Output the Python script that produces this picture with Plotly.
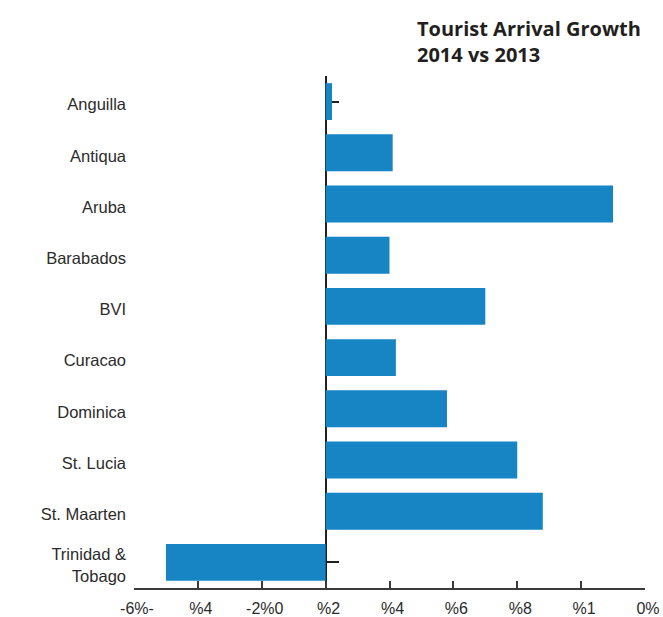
import plotly.graph_objects as go

# Tourist arrival growth, 2014 vs 2013 (percent)
islands = ["Anguilla", "Antiqua", "Aruba", "Barabados", "BVI", "Curacao",
           "Dominica", "St. Lucia", "St. Maarten", "Trinidad &<br>Tobago"]
growth = [0.2, 2.1, 9.0, 2.0, 5.0, 2.2, 3.8, 6.0, 6.8, -5.0]

x_tickvals = [-6, -4, -2, 0, 2, 4, 6, 8, 10]
x_ticktext = ["-6%-", "%4", "-2%0", "%2", "%4", "%6", "%8", "%1", "0%"]

x_range = [-6, 10]
bar_color = "#1784c4"
ink = "#231f20"
label_color = "#2b2b2b"

W, H = 663, 617
M = dict(l=134, r=18, t=76, b=29)
plot_w = W - M["l"] - M["r"]
plot_h = H - M["t"] - M["b"]
n = len(islands)

fig = go.Figure()
# invisible carrier so the label axis gets drawn
fig.add_trace(go.Scatter(
    x=growth, y=list(range(n)), mode="none",
    hoverinfo="skip", showlegend=False,
))
fig.add_trace(go.Bar(
    x=growth,
    y=islands,
    orientation="h",
    marker=dict(color=bar_color, line=dict(width=0)),
    width=0.72,
    yaxis="y2",
    hoverinfo="x+y",
))

fig.update_layout(
    width=W,
    height=H,
    margin=M,
    paper_bgcolor="white",
    plot_bgcolor="white",
    showlegend=False,
    font=dict(family="Liberation Sans, Arial, sans-serif", size=16, color=ink),
    xaxis=dict(
        range=x_range,
        tickvals=x_tickvals,
        ticktext=x_ticktext,
        ticks="inside",
        ticklen=7,
        tickwidth=1.5,
        tickcolor="#3a3a3a",
        showline=True,
        linecolor="#3a3a3a",
        linewidth=1.5,
        showgrid=False,
        zeroline=False,
        automargin=False,
        ticklabelstandoff=5,
        ticklabelshift=3,
        tickfont=dict(size=16, color=label_color),
    ),
    # category labels along the left edge of the plot area
    yaxis=dict(
        type="linear",
        range=[n - 0.5, -0.5],
        tickvals=list(range(n)),
        ticktext=islands,
        showline=False,
        ticks="",
        showgrid=False,
        zeroline=False,
        automargin=False,
        ticklabelstandoff=7,
        ticklabelshift=-3,
        tickfont=dict(size=16.5, color=label_color),
    ),
    # baseline axis drawn at 0%
    yaxis2=dict(
        type="category",
        categoryorder="array",
        categoryarray=islands,
        overlaying="y",
        anchor="free",
        position=(0 - x_range[0]) / (x_range[1] - x_range[0]),
        range=[n - 0.5, -0.5],
        showticklabels=False,
        ticks="inside",
        ticklen=13,
        tickwidth=1.5,
        tickcolor=ink,
        showline=True,
        linecolor=ink,
        linewidth=1.5,
        showgrid=False,
        zeroline=False,
        automargin=False,
        layer="below traces",
    ),
    annotations=[dict(
        text="<b>Tourist Arrival Growth<br>2014 vs 2013</b>",
        xref="paper", yref="paper",
        x=(415 - M["l"]) / plot_w, y=(plot_h + M["t"] - 13) / plot_h,
        xanchor="left", yanchor="top",
        align="left",
        showarrow=False,
        font=dict(family="Open Sans, sans-serif", size=20, color=ink),
    )],
)

fig.write_html("out.html")
